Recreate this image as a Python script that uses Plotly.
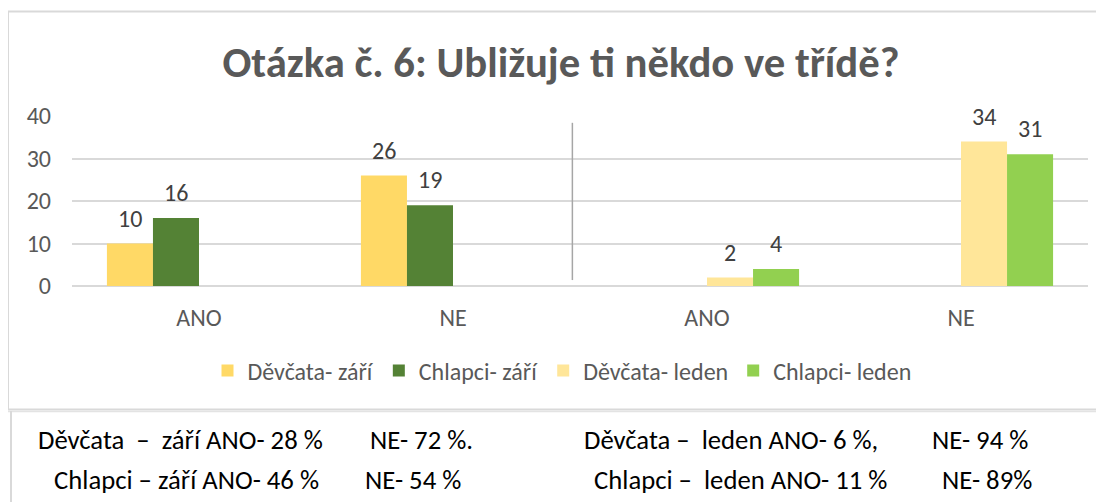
import plotly.graph_objects as go

# ---- data ----
categories = ["ANO", "NE", "ANO", "NE"]
series_names = ["Děvčata- září", "Chlapci- září", "Děvčata- leden", "Chlapci- leden"]
devcata_zari = [10, 26, 0, 0]
chlapci_zari = [16, 19, 0, 0]
devcata_leden = [0, 0, 2, 34]
chlapci_leden = [0, 0, 4, 31]
series_values = [devcata_zari, chlapci_zari, devcata_leden, chlapci_leden]
series_colors = ["#FFD966", "#548235", "#FFE699", "#92D050"]
y_ticks = [0, 10, 20, 30, 40]
title_text = "Otázka č. 6: Ubližuje ti někdo ve třídě?"
note_line1 = ["Děvčata  –  září ANO- 28 %", "NE- 72 %.", "Děvčata –  leden ANO- 6 %,", "NE- 94 %"]
note_line2 = ["Chlapci – září ANO- 46 %", "NE- 54 %", "Chlapci –  leden ANO- 11 %", "NE- 89%"]

# ---- layout geometry (target window pixels; page body adds an 8px margin) ----
W, H = 1104, 502
OFF = 8
PL, PR, PT, PB = 72, 1088, 116, 286
BARGAP = 0.275
FONT = "Carlito, Calibri, Open Sans, sans-serif"


def px2x(px):
    return (px - PL) / (PR - PL)


def py2y(py):
    return (PB - py) / (PB - PT)


x_idx = list(range(len(categories)))
fig = go.Figure()
for name, vals, col in zip(series_names, series_values, series_colors):
    fig.add_trace(go.Bar(
        x=x_idx, y=vals, name=name,
        marker=dict(color=col, line=dict(width=0)),
        hoverinfo="y+name",
    ))

# data labels above non-zero bars
n = len(series_values)
w = (1 - BARGAP) / n
annotations = []
for i, vals in enumerate(series_values):
    off = (i - (n - 1) / 2) * w
    for j, v in enumerate(vals):
        if v:
            annotations.append(dict(
                x=j + off, y=v, xref="x", yref="y", text=str(v),
                showarrow=False, yanchor="bottom", yshift=9,
                font=dict(size=24, color="#404040", family=FONT),
            ))

# note text below chart
note_x1 = [38, 370, 584, 932]
note_x2 = [54, 365, 594, 942]
for xs, texts, yy in ((note_x1, note_line1, 440), (note_x2, note_line2, 480)):
    for xp, t in zip(xs, texts):
        annotations.append(dict(
            x=px2x(xp - 2), y=py2y(yy), xref="paper", yref="paper", text=t,
            showarrow=False, xanchor="left", yanchor="middle",
            font=dict(size=26.7, color="#000000", family=FONT),
        ))

shapes = [
    # chart frame
    dict(type="rect", xref="paper", yref="paper",
         x0=px2x(8), x1=px2x(1120), y0=py2y(11.5), y1=py2y(409.5),
         line=dict(color="#d9d9d9", width=2), layer="below"),
    dict(type="line", xref="paper", yref="paper",
         x0=px2x(0), x1=px2x(1120), y0=py2y(411.5), y1=py2y(411.5),
         line=dict(color="#e3e3e3", width=1.5)),
    dict(type="line", xref="paper", yref="paper",
         x0=px2x(11), x1=px2x(11), y0=py2y(411), y1=py2y(520),
         line=dict(color="#d9d9d9", width=2)),
    # separator between September and January groups
    dict(type="line", xref="x", yref="y",
         x0=1.47, x1=1.47, y0=1.4, y1=38.4,
         line=dict(color="#a6a6a6", width=1.5)),
]

fig.update_layout(
    width=W, height=H,
    margin=dict(l=PL - OFF, r=W - (PR - OFF), t=PT - OFF, b=H - (PB - OFF), autoexpand=False),
    paper_bgcolor="white", plot_bgcolor="white",
    barmode="group", bargap=BARGAP, bargroupgap=0,
    title=dict(text=title_text, x=(561 - OFF) / W, xanchor="center",
               y=1 - (62 - OFF) / H, yanchor="middle", yref="container",
               font=dict(size=42.7, color="#595959", family=FONT, weight="bold")),
    font=dict(family=FONT, color="#595959", size=24),
    xaxis=dict(tickvals=x_idx, ticktext=categories, range=[-0.5, len(categories) - 0.5],
               showgrid=False, zeroline=False, showline=False, ticks="",
               ticklabelstandoff=15, tickfont=dict(size=24, color="#595959")),
    yaxis=dict(range=[0, 40], tickvals=y_ticks, showgrid=True, gridcolor="#d9d9d9",
               gridwidth=2, zeroline=True, zerolinecolor="#d9d9d9", zerolinewidth=2,
               showline=False, ticks="", ticklabelstandoff=20,
               tickfont=dict(size=24, color="#595959")),
    legend=dict(orientation="h", x=px2x(562), xanchor="center",
                y=1 - (371 - OFF) / H, yref="container", yanchor="middle",
                font=dict(size=24, color="#595959", family=FONT),
                itemwidth=30, tracegroupgap=0),
    annotations=annotations,
    shapes=shapes,
    showlegend=True,
)

fig.write_html("out.html")
